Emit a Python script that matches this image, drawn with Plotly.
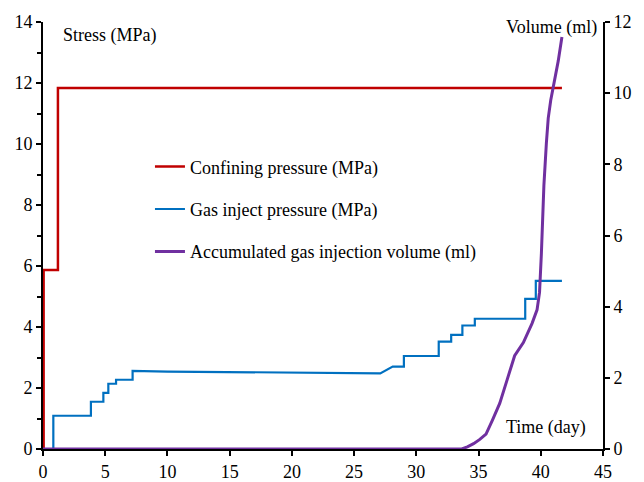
import plotly.graph_objects as go

# Confining pressure (MPa)
conf_t = [0.05, 0.05, 1.2, 1.2, 41.7]
conf_p = [0.0, 5.87, 5.87, 11.84, 11.84]

# Gas inject pressure (MPa)
gas_t = [0.83, 0.83, 3.85, 3.85, 4.85, 4.85, 5.25, 5.25, 5.87, 5.87, 7.2, 7.2,
         10, 15, 20, 24, 27.1, 28.1, 29.0, 29.0, 31.8, 31.8, 32.8, 32.8,
         33.7, 33.7, 34.7, 34.7, 38.75, 38.75, 39.6, 39.6, 41.7]
gas_p = [0.0, 1.09, 1.09, 1.55, 1.55, 1.84, 1.84, 2.14, 2.14, 2.27, 2.27, 2.56,
         2.54, 2.52, 2.51, 2.50, 2.48, 2.70, 2.70, 3.05, 3.05, 3.52, 3.52, 3.74,
         3.74, 4.05, 4.05, 4.27, 4.27, 4.92, 4.92, 5.51, 5.51]

# Accumulated gas injection volume (ml)
vol_t = [0, 33.65, 34.1, 34.6, 35.1, 35.6, 36.1, 36.7, 37.3, 37.9, 38.6, 39.3,
         39.7, 39.9, 40.05, 40.25, 40.45, 40.6, 40.8, 41.0, 41.4, 41.7]
vol_v = [0, 0, 0.06, 0.15, 0.27, 0.42, 0.8, 1.28, 1.95, 2.62, 2.99, 3.53,
         3.91, 4.4, 5.5, 7.4, 8.6, 9.3, 9.8, 10.15, 10.9, 11.58]

x_ticks = [0, 5, 10, 15, 20, 25, 30, 35, 40, 45]
y_ticks = [0, 2, 4, 6, 8, 10, 12, 14]
y2_ticks = [0, 2, 4, 6, 8, 10, 12]

FONT = "Liberation Serif, Times New Roman, serif"

fig = go.Figure()
fig.add_trace(go.Scatter(x=conf_t, y=conf_p, mode="lines",
                         line=dict(color="#C00000", width=2.5),
                         name="Confining pressure (MPa)", legendgroup="a"))
fig.add_trace(go.Scatter(x=gas_t, y=gas_p, mode="lines",
                         line=dict(color="#0070C0", width=2.2),
                         name="Gas inject pressure (MPa)", legendgroup="b"))
fig.add_trace(go.Scatter(x=vol_t, y=vol_v, mode="lines", yaxis="y2",
                         line=dict(color="#7030A0", width=3),
                         name="Accumulated gas injection volume (ml)", legendgroup="c"))

axis_common = dict(showgrid=False, zeroline=False, showline=True, linecolor="black",
                   linewidth=2, ticks="outside", tickcolor="black", tickwidth=2,
                   ticklen=5, automargin=False, layer="below traces",
                   tickfont=dict(family=FONT, size=18, color="black"))

fig.update_layout(
    width=644, height=482,
    margin=dict(l=43, r=41, t=21.6, b=32.7, pad=0),
    plot_bgcolor="white", paper_bgcolor="white",
    font=dict(family=FONT, size=18, color="black"),
    xaxis=dict(range=[0, 45], tickvals=x_ticks, **axis_common),
    yaxis=dict(range=[0, 14], tickvals=y_ticks,
               minor=dict(dtick=1, ticks="outside", ticklen=4, tickwidth=2, tickcolor="black"),
               **axis_common),
    yaxis2=dict(range=[0, 12], tickvals=y2_ticks, overlaying="y", side="right",
                anchor="x", **axis_common),
    showlegend=True,
    legend=dict(x=0.191, y=0.704, xanchor="left", yanchor="top",
                bgcolor="rgba(0,0,0,0)", font=dict(family=FONT, size=18),
                tracegroupgap=16, itemwidth=30),
    annotations=[
        dict(text="Stress (MPa)", xref="paper", yref="paper", x=0.032, y=0.969,
             xanchor="left", yanchor="middle", showarrow=False,
             font=dict(family=FONT, size=18)),
        dict(text="Volume (ml)", xref="paper", yref="paper", x=0.993, y=0.987,
             xanchor="right", yanchor="middle", showarrow=False,
             font=dict(family=FONT, size=18)),
        dict(text="Time (day)", xref="paper", yref="paper", x=0.973, y=0.05,
             xanchor="right", yanchor="middle", showarrow=False,
             font=dict(family=FONT, size=18)),
    ],
)

fig.write_html("out.html", config={"displayModeBar": False},
               post_script="document.body.style.margin='0';document.body.style.overflow='hidden';")
